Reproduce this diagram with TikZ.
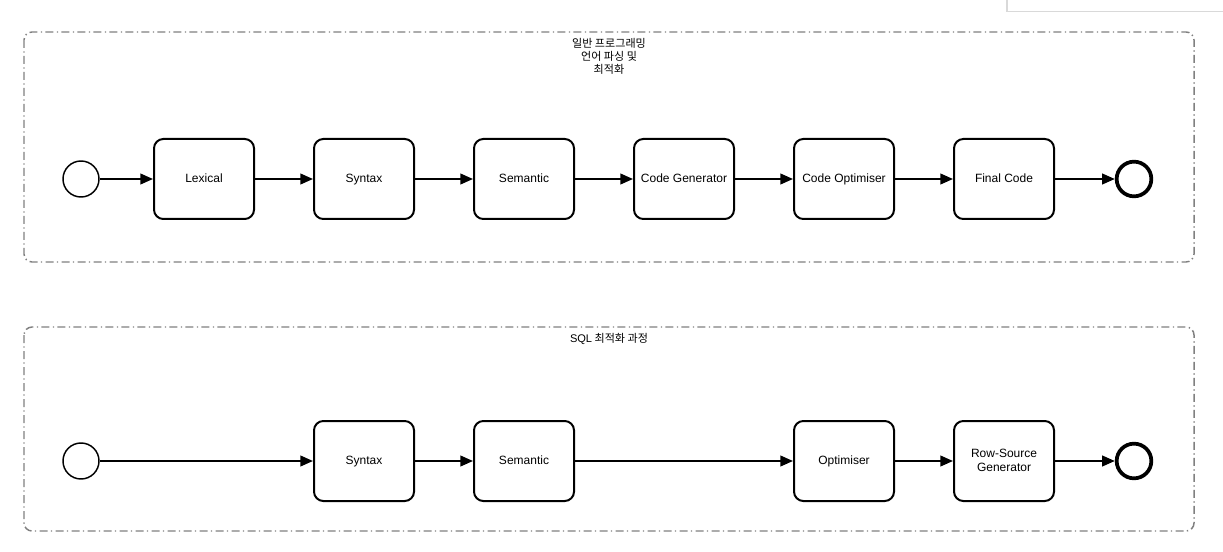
\documentclass[tikz,border=0pt]{standalone}
\usepackage{fontspec}
\setmainfont{Liberation Sans}
\newfontfamily\kr{Noto Sans CJK KR}
\usetikzlibrary{arrows.meta}
\newcommand\mystrut{\rule[-0.9pt]{0pt}{7.4pt}}
\begin{document}
\begin{tikzpicture}[x=0.75pt,y=-0.75pt,
  grp/.style={draw=black!50,line width=1.1pt,rounded corners=6pt,dash pattern=on 6pt off 2.5pt on 1pt off 2.5pt},
  task/.style={draw=black,line width=1.5pt,rounded corners=7pt,minimum width=75pt,minimum height=60pt,inner sep=0pt,font=\fontsize{9}{10.5}\selectfont,align=center},
  startev/.style={circle,draw=black,line width=1.1pt,minimum size=27pt,inner sep=0pt},
  endev/.style={circle,draw=black,line width=2.8pt,minimum size=26pt,inner sep=0pt},
  flow/.style={line width=1.5pt,-{Triangle[length=9.5pt,width=8pt]}},
  ttl/.style={font=\kr\fontsize{8.3}{9.6}\selectfont,align=center,inner sep=0pt}]
\useasboundingbox (0,0) rectangle (1223,552);
% stray panel top right
\draw[black!15,line width=0.8pt] (1007,-2) -- (1007,11.5) -- (1225,11.5);
% group 1
\draw[grp] (24,32) rectangle (1194,262);
\node[ttl,anchor=north] (t1) at (609,38) {일반 프로그래밍\\언어 파싱 및\\최적화};
\node[startev] (s1) at (81,179) {};
\node[task] (lex) at (204,179) {\mystrut Lexical};
\node[task] (syn1) at (364,179) {\mystrut Syntax};
\node[task] (sem1) at (524,179) {\mystrut Semantic};
\node[task] (cg) at (684,179) {\mystrut Code Generator};
\node[task] (co) at (844,179) {\mystrut Code Optimiser};
\node[task] (fc) at (1004,179) {\mystrut Final Code};
\node[endev] (e1) at (1134,179) {};
\draw[flow] (s1) -- (lex);
\draw[flow] (lex) -- (syn1);
\draw[flow] (syn1) -- (sem1);
\draw[flow] (sem1) -- (cg);
\draw[flow] (cg) -- (co);
\draw[flow] (co) -- (fc);
\draw[flow] (fc) -- (e1);
% group 2
\draw[grp] (24,327) rectangle (1194,531);
\node[ttl,anchor=north] (t2) at (609,333) {{\rmfamily\fontsize{8.3}{9.6}\selectfont SQL} 최적화 과정};
\node[startev] (s2) at (81,461) {};
\node[task] (syn2) at (364,461) {\mystrut Syntax};
\node[task] (sem2) at (524,461) {\mystrut Semantic};
\node[task] (opt) at (844,461) {\mystrut Optimiser};
\node[task] (rsg) at (1004,461) {\mystrut Row-Source\\\mystrut Generator};
\node[endev] (e2) at (1134,461) {};
\draw[flow] (s2) -- (syn2);
\draw[flow] (syn2) -- (sem2);
\draw[flow] (sem2) -- (opt);
\draw[flow] (opt) -- (rsg);
\draw[flow] (rsg) -- (e2);
\end{tikzpicture}
\end{document}
